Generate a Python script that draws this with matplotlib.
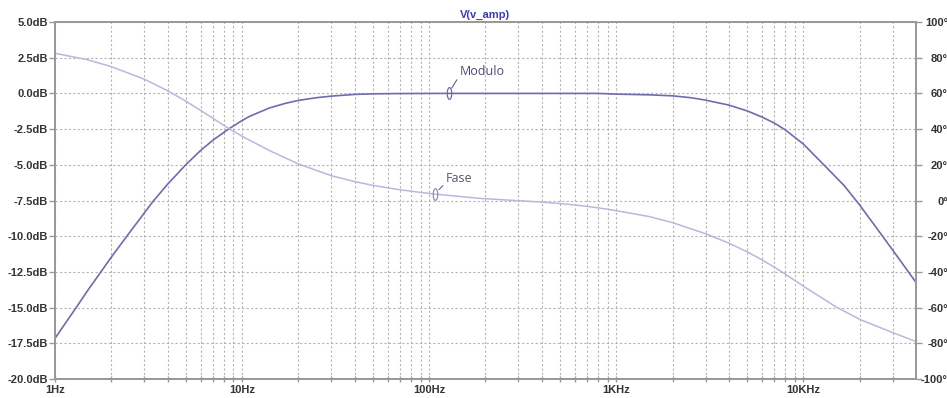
import matplotlib
matplotlib.use("Agg")
import matplotlib.pyplot as plt
import numpy as np
from matplotlib.path import Path
from matplotlib.transforms import Affine2D
from matplotlib.ticker import FixedLocator, FixedFormatter, NullFormatter

# frequency response of v_amp (read from the AC sweep)
freq_mag = [1, 1.306, 1.5, 1.776, 2, 2.41, 3, 3.35, 4, 5, 6, 7, 8.42, 10, 11, 14,
            17, 20, 25, 30, 40, 50, 70, 100, 200, 500, 800, 1000, 1500, 2000, 2500,
            3000, 4000, 5000, 6000, 7000, 8000, 10000, 13200, 16500, 20000, 26500,
            30000, 40000]
mag_db = [-17.16, -14.95, -13.78, -12.43, -11.47, -10.04, -8.38, -7.55, -6.36, -5.0,
          -4.0, -3.27, -2.52, -1.9, -1.6, -1.02, -0.7, -0.49, -0.3, -0.19, -0.07,
          -0.03, -0.01, 0.0, 0.0, 0.0, 0.0, -0.05, -0.1, -0.17, -0.3, -0.47, -0.82,
          -1.22, -1.65, -2.08, -2.55, -3.55, -5.15, -6.45, -7.82, -10.0, -10.97,
          -13.24]

freq_ph = [1, 1.5, 2, 3, 4, 5, 6, 7, 8.2, 10, 14, 20, 30, 40, 50, 67, 90, 107, 186,
           300, 400, 500, 600, 700, 800, 900, 1000, 1500, 2000, 3000, 4000, 5000,
           6000, 7000, 8000, 10000, 14900, 20000, 30000, 40000]
phase_deg = [82.5, 78.8, 75.0, 68.0, 61.5, 55.7, 50.5, 46.0, 41.3, 36.0, 28.0, 20.5,
             13.9, 10.6, 8.5, 6.3, 4.5, 3.6, 1.2, -0.1, -0.9, -1.7, -2.5, -3.3, -4.1,
             -4.9, -5.7, -9.0, -12.4, -18.6, -23.9, -28.7, -33.2, -37.4, -41.2,
             -48.0, -59.5, -66.6, -74.0, -79.0]

x_major = [1, 10, 100, 1000, 10000]
x_labels = ["1Hz", "10Hz", "100Hz", "1KHz", "10KHz"]
db_ticks = [5.0, 2.5, 0.0, -2.5, -5.0, -7.5, -10.0, -12.5, -15.0, -17.5, -20.0]
deg_ticks = [100, 80, 60, 40, 20, 0, -20, -40, -60, -80, -100]

mag_color = "#6c6cb0"
ph_color = "#b8b8de"
grid_color = "#b4b4b4"
spine_color = "#999999"
label_color = "#333333"

plt.rcParams['font.family'] = ['Liberation Sans', 'DejaVu Sans']

fig = plt.figure(figsize=(9.47, 3.98), dpi=100)
ax = fig.add_axes([0.058, 0.0477, 0.9093, 0.897])
ax2 = ax.twinx()

ax.set_xscale("log")
ax.set_xlim(1, 40000)
ax.set_ylim(-20, 5)
ax2.set_ylim(-100, 100)

minor = [m * 10 ** d for d in range(5) for m in range(2, 10) if m * 10 ** d < 40000]
ax.xaxis.set_major_locator(FixedLocator(x_major))
ax.xaxis.set_major_formatter(FixedFormatter(x_labels))
ax.xaxis.set_minor_locator(FixedLocator(minor))
ax.xaxis.set_minor_formatter(NullFormatter())
ax.set_yticks(db_ticks)
ax.set_yticklabels(["%.1fdB" % v for v in db_ticks])
ax2.set_yticks(deg_ticks)
ax2.set_yticklabels(["%d°" % v for v in deg_ticks])

ax.grid(True, which="both", axis="x", color=grid_color, linestyle=(0, (2, 2)), linewidth=0.8)
ax.grid(True, which="major", axis="y", color=grid_color, linestyle=(0, (2, 2)), linewidth=0.8)

for a in (ax, ax2):
    for s in a.spines.values():
        s.set_color(spine_color)
        s.set_linewidth(1.3)

ax.tick_params(axis="y", direction="out", length=4, width=1, color=spine_color,
               labelsize=8, labelcolor=label_color, pad=1)
ax.tick_params(axis="x", which="both", direction="inout", length=5, width=1,
               color=spine_color, labelsize=8, labelcolor=label_color, pad=2)
ax2.tick_params(axis="y", direction="out", length=4, width=1, color=spine_color,
                labelsize=8, labelcolor=label_color, pad=19)
for lab in ax.get_xticklabels() + ax.get_yticklabels() + ax2.get_yticklabels():
    lab.set_fontweight("bold")
for lab in ax2.get_yticklabels():
    lab.set_horizontalalignment("right")

ax2.plot(freq_ph, phase_deg, color=ph_color, linewidth=1.1)
ax.plot(freq_mag, mag_db, color=mag_color, linewidth=1.2)

# trace labels with the little ellipse markers
ellipse = Path.unit_circle().transformed(Affine2D().scale(0.38, 1.0))
ax.plot([127], [0.0], marker=ellipse, ms=8.5, mfc="none", mec=mag_color, mew=0.9)
ax.annotate("Modulo", xy=(127, 0.0), xytext=(8, 16), textcoords="offset points",
            fontsize=9, family=["Open Sans", "DejaVu Sans"], color="#4a4a7c",
            va="center", ha="left",
            arrowprops=dict(arrowstyle="-", color="#4a4a7c", lw=0.7,
                            shrinkA=0, shrinkB=4.5, relpos=(0, 0.2)))
ax2.plot([107], [3.6], marker=ellipse, ms=8.5, mfc="none", mec="#9090b8", mew=0.9)
ax2.annotate("Fase", xy=(107, 3.6), xytext=(8, 11), textcoords="offset points",
             fontsize=9, family=["Open Sans", "DejaVu Sans"], color="#55556a",
             va="center", ha="left",
             arrowprops=dict(arrowstyle="-", color="#55556a", lw=0.7,
                             shrinkA=0, shrinkB=4.5, relpos=(0, 0.2)))

ax.set_title("V(v_amp)", fontsize=8, fontweight="bold", color="#3c3cb4", pad=3)

fig.savefig("out.png", dpi=100)
